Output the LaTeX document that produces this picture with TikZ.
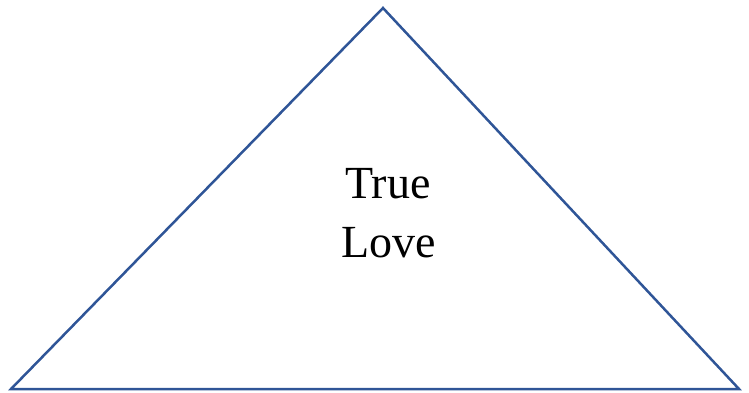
\documentclass[tikz,border=0pt]{standalone}
\usepackage{fontspec}
\setmainfont{Liberation Serif}
\definecolor{edgeblue}{HTML}{2F5597}
\begin{document}
\begin{tikzpicture}[x=1pt,y=-1pt,
  tri/.style={draw=edgeblue,line width=2.5pt,line join=miter},
  lbl/.style={align=center,font=\fontsize{46}{59}\selectfont,inner sep=0pt}]
\useasboundingbox (0,0) rectangle (749,392);
\coordinate (apex) at (383,8);
\coordinate (bl) at (11,389);
\coordinate (br) at (739,389);
\draw[tri] (apex) -- (br) -- (bl) -- cycle;
\node[lbl,anchor=base] (t) at (388,198) {True};
\node[lbl,anchor=base] (l) at (389,257) {Love};
\end{tikzpicture}
\end{document}
